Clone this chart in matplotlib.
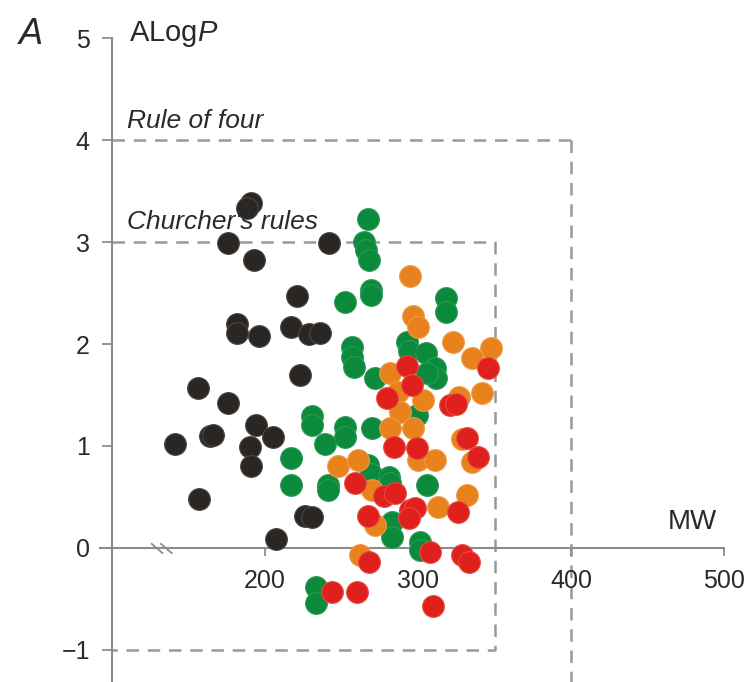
import matplotlib
matplotlib.use("Agg")
import matplotlib.pyplot as plt

# MW / ALogP values, one list per colour group
black_mw = [191, 188, 176, 193, 242, 221, 182, 182, 196, 217, 229, 236, 223,
            156, 176, 194, 205, 164, 166, 141, 190, 191, 157, 226, 231, 207]
black_logp = [3.38, 3.33, 2.99, 2.82, 2.99, 2.47, 2.20, 2.11, 2.08, 2.17, 2.10, 2.11, 1.70,
              1.57, 1.42, 1.21, 1.09, 1.10, 1.11, 1.02, 0.99, 0.80, 0.48, 0.31, 0.30, 0.09]

green_mw = [267, 265, 266, 268, 269, 269, 252, 318, 318, 257, 257, 258, 272,
            293, 294, 305, 311, 312, 306, 299, 252, 252, 270, 239, 231, 231,
            217, 217, 241, 241, 267, 269, 281, 282, 306, 283, 283, 301, 301, 233, 233]
green_logp = [3.23, 3.00, 2.92, 2.82, 2.53, 2.48, 2.41, 2.45, 2.31, 1.97, 1.87, 1.77, 1.67,
              2.02, 1.93, 1.91, 1.76, 1.67, 1.72, 1.30, 1.19, 1.09, 1.18, 1.02, 1.29, 1.21,
              0.88, 0.62, 0.62, 0.57, 0.81, 0.73, 0.70, 0.64, 0.62, 0.25, 0.11, 0.06, -0.02, -0.38, -0.54]

orange_mw = [295, 297, 300, 323, 348, 335, 282, 287, 303, 327, 342, 288, 282,
             297, 300, 311, 329, 335, 248, 261, 270, 332, 313, 272, 262]
orange_logp = [2.67, 2.27, 2.17, 2.02, 1.96, 1.86, 1.72, 1.53, 1.45, 1.48, 1.52, 1.33, 1.18,
               1.18, 0.86, 0.86, 1.07, 0.84, 0.80, 0.86, 0.57, 0.52, 0.40, 0.23, -0.07]

red_mw = [293, 296, 280, 346, 321, 325, 284, 299, 332, 339, 259, 278, 285,
          326, 295, 298, 294, 267, 308, 268, 329, 333, 244, 260, 310]
red_logp = [1.78, 1.60, 1.47, 1.76, 1.40, 1.41, 0.99, 0.98, 1.08, 0.89, 0.64, 0.51, 0.54,
            0.35, 0.37, 0.39, 0.29, 0.31, -0.04, -0.14, -0.07, -0.14, -0.43, -0.43, -0.57]

x_ticks = [200, 300, 400, 500]
y_ticks = [-1, 0, 1, 2, 3, 4, 5]
y_labels = ["\u22121", "0", "1", "2", "3", "4", "5"]

plt.rcParams["font.family"] = ["Liberation Sans", "DejaVu Sans"]
plt.rcParams["mathtext.fontset"] = "custom"
plt.rcParams["mathtext.rm"] = "Liberation Sans"
plt.rcParams["mathtext.it"] = "Liberation Sans:italic"

fig = plt.figure(figsize=(7.49, 6.82), dpi=100)
ax = fig.add_axes([0, 0, 1, 1])
ax.set_xlim(26.8, 516.3)
ax.set_ylim(-1.314, 5.373)

axis_col = "#8c8c8c"
dash_col = "#999999"
text_col = "#2a2a2a"

for side in ["top", "right"]:
    ax.spines[side].set_visible(False)
ax.spines["left"].set_position(("data", 100))
ax.spines["left"].set_bounds(-1.32, 5)
ax.spines["bottom"].set_position(("data", 0))
ax.spines["bottom"].set_bounds(92, 500)
for side in ["left", "bottom"]:
    ax.spines[side].set_color(axis_col)
    ax.spines[side].set_linewidth(1.5)

ax.set_xticks(x_ticks)
ax.set_yticks(y_ticks)
ax.set_yticklabels(y_labels)
ax.tick_params(axis="both", colors=axis_col, labelcolor=text_col, labelsize=18,
               width=1.3, direction="out")
ax.tick_params(axis="y", length=7, pad=9)
ax.tick_params(axis="x", length=6, pad=9)

# rule boxes
dash = dict(color=dash_col, lw=1.8, ls=(0, (5, 3.5)), zorder=1)
ax.plot([100, 400], [4, 4], **dash)
ax.plot([400, 400], [4, -1.32], **dash)
ax.plot([100, 350, 350, 100], [3, 3, -1, -1], **dash)

# axis break mark
ax.plot([126, 133], [0.04, -0.05], color=axis_col, lw=1.3, zorder=2)
ax.plot([132, 139], [0.04, -0.05], color=axis_col, lw=1.3, zorder=2)

size = 245
ax.scatter(black_mw, black_logp, s=size, color="#2a2624", edgecolors="#4a4644", lw=0.8, zorder=3)
ax.scatter(green_mw, green_logp, s=size, color="#0b8a3c", edgecolors="#2a9a55", lw=0.8, zorder=4)
ax.scatter(orange_mw, orange_logp, s=size, color="#e8821c", edgecolors="#f09a45", lw=0.8, zorder=5)
ax.scatter(red_mw, red_logp, s=size, color="#e0201c", edgecolors="#e84a40", lw=0.8, zorder=6)

fig.text(31 / 749, 1 - 35 / 682, "A", fontsize=26, style="italic", color=text_col,
         ha="center", va="center")
ax.text(111, 5.04, "ALog$\\mathit{P}$", fontsize=21, color=text_col, ha="left", va="center")
ax.text(110, 4.19, "Rule of four", fontsize=19, style="italic", color=text_col, ha="left", va="center")
ax.text(110, 3.2, "Churcher's rules", fontsize=19, style="italic", color=text_col, ha="left", va="center")
ax.text(479, 0.25, "MW", fontsize=20, color=text_col, ha="center", va="center")

fig.savefig("out.png", dpi=100)
